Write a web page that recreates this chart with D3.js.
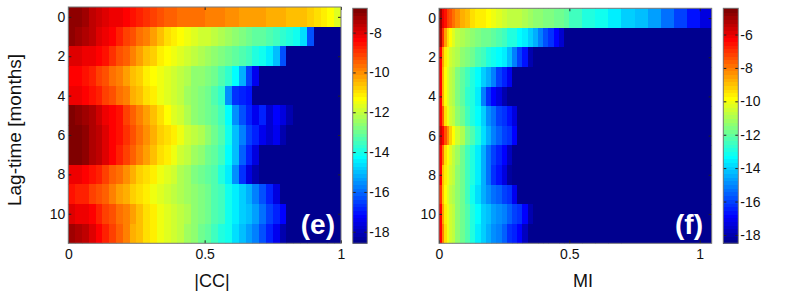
<!DOCTYPE html>
<html>
<head>
<meta charset="utf-8">
<script src="https://cdn.jsdelivr.net/npm/d3@7"></script>
<style>
body { margin: 0; background: #fff; }
text { font-family: "Liberation Sans", Arial, Helvetica, sans-serif; }
</style>
</head>
<body>
<div id="chart"></div>
<script>
// data (log values, one array per lag row)

var lagTicks = [0, 2, 4, 6, 8, 10];
var xTicks = [0, 0.5, 1];
var ccColorTicks = [-8, -10, -12, -14, -16, -18];
var miColorTicks = [-6, -8, -10, -12, -14, -16, -18];
var ccRange = [-18.58, -6.78];
var miRange = [-18.5, -4.43];

// |CC| bins: 0 .. 1 in steps of 0.025
var ccEdges = d3.range(41).map(function(i) { return i * 0.025; });

// MI bins: finer near zero
var miEdges = [0, 0.01, 0.02, 0.03, 0.04, 0.05, 0.06, 0.08, 0.10, 0.12, 0.14, 0.16, 0.18, 0.20,
    0.22, 0.24, 0.26, 0.28, 0.30, 0.32, 0.34, 0.36, 0.38, 0.40, 0.42, 0.44, 0.46, 0.48, 0.50,
    0.55, 0.60, 0.65, 0.70, 0.75, 0.80, 0.85, 0.90, 0.95, 1.00, 1.046];

var ccRows = [
    [-7.0,-7.1,-7.3,-7.6,-7.8,-8.0,-8.1,-8.2,-8.3,-8.5,-8.7,-8.9,-9.0,-9.2,-9.4,-9.5,-9.6,-9.6,-9.7,-9.7,-9.8,-9.9,-9.9,-10.0,-10.0,-10.1,-10.1,-10.2,-10.2,-10.3,-10.4,-10.4,-10.5,-10.6,-10.6,-10.7,-10.9,-11.1,-11.3,-11.6],
    [-7.1,-7.2,-7.4,-7.7,-8.0,-8.2,-8.4,-8.7,-9.0,-9.3,-9.6,-9.9,-10.2,-10.5,-10.9,-11.1,-11.3,-11.5,-11.7,-11.8,-11.9,-12.1,-12.3,-12.4,-12.6,-12.7,-12.9,-13.1,-13.2,-13.4,-13.5,-13.7,-13.9,-14.1,-14.6,-16.3,-18.6,-18.6,-18.6,-18.6],
    [-7.9,-8.0,-8.1,-8.2,-8.4,-8.6,-8.9,-9.2,-9.5,-9.8,-10.2,-10.5,-10.8,-11.1,-11.3,-11.5,-11.7,-11.9,-12.0,-12.2,-12.4,-12.5,-12.7,-12.9,-13.1,-13.3,-13.5,-13.8,-14.1,-14.4,-15.0,-16.3,-18.6,-18.6,-18.6,-18.6,-18.6,-18.6,-18.6,-18.6],
    [-8.3,-8.4,-8.5,-8.7,-9.0,-9.3,-9.6,-9.9,-10.2,-10.5,-10.8,-11.1,-11.3,-11.5,-11.7,-11.9,-12.1,-12.3,-12.5,-12.6,-12.8,-13.0,-13.3,-13.7,-14.3,-15.2,-16.5,-17.3,-18.6,-18.6,-18.6,-18.6,-18.6,-18.6,-18.6,-18.6,-18.6,-18.6,-18.6,-18.6],
    [-8.2,-8.2,-8.3,-8.5,-8.7,-9.0,-9.3,-9.6,-9.9,-10.3,-10.6,-10.9,-11.2,-11.4,-11.7,-11.9,-12.1,-12.4,-12.6,-12.8,-13.0,-13.3,-13.7,-15.5,-16.6,-16.9,-17.0,-18.4,-18.6,-18.6,-18.6,-18.6,-18.6,-18.6,-18.6,-18.6,-18.6,-18.6,-18.6,-18.6],
    [-6.9,-7.0,-7.2,-7.5,-7.8,-8.1,-8.3,-8.6,-9.0,-9.4,-9.8,-10.2,-10.6,-11.0,-11.3,-11.6,-11.9,-12.2,-12.5,-12.7,-12.9,-13.2,-13.6,-14.3,-15.5,-16.3,-16.8,-17.4,-16.9,-17.8,-17.2,-17.5,-18.2,-18.6,-18.6,-18.6,-18.6,-18.6,-18.6,-18.6],
    [-6.8,-6.9,-7.1,-7.4,-7.7,-8.0,-8.3,-8.6,-8.9,-9.2,-9.6,-10.0,-10.4,-10.7,-11.0,-11.2,-11.5,-11.8,-12.0,-12.3,-12.6,-12.9,-13.3,-14.0,-15.0,-15.8,-16.4,-16.9,-17.3,-17.8,-17.4,-18.1,-18.6,-18.6,-18.6,-18.6,-18.6,-18.6,-18.6,-18.6],
    [-6.8,-6.9,-7.1,-7.4,-7.7,-8.0,-8.3,-8.7,-9.0,-9.4,-9.8,-10.2,-10.6,-10.9,-11.2,-11.5,-11.8,-12.1,-12.4,-12.6,-12.9,-13.2,-13.6,-14.2,-15.0,-16.0,-16.8,-17.6,-18.6,-18.6,-18.6,-18.6,-18.6,-18.6,-18.6,-18.6,-18.6,-18.6,-18.6,-18.6],
    [-8.1,-8.2,-8.3,-8.5,-8.8,-9.1,-9.4,-9.7,-10.0,-10.4,-10.7,-11.0,-11.2,-11.5,-11.7,-11.9,-12.2,-12.4,-12.7,-12.9,-13.1,-13.4,-13.8,-14.5,-15.6,-16.6,-17.6,-18.1,-18.6,-18.6,-18.6,-18.6,-18.6,-18.6,-18.6,-18.6,-18.6,-18.6,-18.6,-18.6],
    [-8.6,-8.7,-8.8,-9.0,-9.2,-9.5,-9.8,-10.1,-10.4,-10.7,-11.0,-11.2,-11.4,-11.6,-11.8,-12.0,-12.2,-12.4,-12.6,-12.8,-13.0,-13.3,-13.6,-14.0,-14.4,-14.8,-15.2,-15.7,-16.3,-16.8,-17.5,-18.6,-18.6,-18.6,-18.6,-18.6,-18.6,-18.6,-18.6,-18.6],
    [-8.0,-8.1,-8.2,-8.4,-8.7,-9.0,-9.3,-9.6,-9.9,-10.2,-10.5,-10.9,-11.2,-11.4,-11.7,-11.9,-12.1,-12.3,-12.6,-12.8,-13.0,-13.3,-13.6,-14.0,-14.5,-14.8,-15.0,-15.4,-15.9,-16.4,-16.8,-17.2,-18.6,-18.6,-18.6,-18.6,-18.6,-18.6,-18.6,-18.6],
    [-7.3,-7.5,-7.7,-8.0,-8.3,-8.7,-9.1,-9.5,-9.9,-10.3,-10.6,-10.9,-11.2,-11.4,-11.7,-11.9,-12.1,-12.4,-12.6,-12.9,-13.2,-13.5,-13.8,-14.1,-14.6,-15.0,-15.3,-15.8,-16.3,-16.8,-17.3,-18.2,-18.6,-18.6,-18.6,-18.6,-18.6,-18.6,-18.6,-18.6]
];

var miRows = [
    [-5.0,-6.0,-6.6,-7.1,-7.5,-7.9, -8.3,-8.7,-9.0,-9.3,-9.5,-9.7,-9.8,-10.0,-10.2,-10.4,-10.6,-10.7,-10.8,-11.0,-11.2,-11.3,-11.4,-11.5,-11.6,-11.7,-11.9,-12.1, -12.4,-12.8,-13.2,-13.5,-13.9,-14.3,-14.7,-15.3,-15.9,-16.6, -17.2],
    [-5.3,-7.0,-8.6,-9.4,-9.9,-10.2, -10.6,-10.9,-11.1,-11.3,-11.5,-11.7,-11.9,-12.1,-12.3,-12.5,-12.8,-13.0,-13.3,-13.5,-13.9,-14.4,-15.0,-15.7,-16.3,-16.8,-17.6,-18.5, -18.5,-18.5,-18.5,-18.5,-18.5,-18.5,-18.5,-18.5,-18.5,-18.5, -18.5],
    [-6.3,-8.5,-9.6,-10.1,-10.4,-10.7, -11.0,-11.3,-11.6,-11.9,-12.2,-12.5,-12.8,-13.1,-13.3,-13.6,-14.3,-15.2,-16.0,-16.7,-18.0,-18.5,-18.5,-18.5,-18.5,-18.5,-18.5,-18.5, -18.5,-18.5,-18.5,-18.5,-18.5,-18.5,-18.5,-18.5,-18.5,-18.5, -18.5],
    [-6.4,-8.8,-9.8,-10.3,-10.7,-11.0, -11.5,-12.0,-12.5,-12.9,-13.3,-13.9,-14.5,-15.2,-15.9,-16.5,-17.0,-18.3,-18.5,-18.5,-18.5,-18.5,-18.5,-18.5,-18.5,-18.5,-18.5,-18.5, -18.5,-18.5,-18.5,-18.5,-18.5,-18.5,-18.5,-18.5,-18.5,-18.5, -18.5],
    [-6.3,-8.7,-9.8,-10.3,-10.7,-11.0, -11.6,-12.1,-12.6,-13.0,-13.6,-15.2,-16.2,-16.8,-17.4,-17.9,-18.5,-18.5,-18.5,-18.5,-18.5,-18.5,-18.5,-18.5,-18.5,-18.5,-18.5,-18.5, -18.5,-18.5,-18.5,-18.5,-18.5,-18.5,-18.5,-18.5,-18.5,-18.5, -18.5],
    [-6.2,-7.6,-9.3,-10.0,-10.4,-10.8, -11.3,-11.9,-12.4,-12.9,-13.4,-14.1,-14.9,-15.4,-15.9,-16.2,-16.6,-17.2,-18.5,-18.5,-18.5,-18.5,-18.5,-18.5,-18.5,-18.5,-18.5,-18.5, -18.5,-18.5,-18.5,-18.5,-18.5,-18.5,-18.5,-18.5,-18.5,-18.5, -18.5],
    [-5.6,-6.2,-7.3,-8.3,-9.2,-9.8, -10.4,-11.0,-11.7,-12.3,-13.0,-13.8,-14.4,-15.0,-15.5,-15.9,-16.3,-16.9,-18.5,-18.5,-18.5,-18.5,-18.5,-18.5,-18.5,-18.5,-18.5,-18.5, -18.5,-18.5,-18.5,-18.5,-18.5,-18.5,-18.5,-18.5,-18.5,-18.5, -18.5],
    [-6.3,-7.9,-9.4,-9.9,-10.3,-10.7, -11.2,-11.8,-12.4,-13.0,-13.6,-14.4,-15.3,-15.9,-16.4,-16.9,-17.8,-18.5,-18.5,-18.5,-18.5,-18.5,-18.5,-18.5,-18.5,-18.5,-18.5,-18.5, -18.5,-18.5,-18.5,-18.5,-18.5,-18.5,-18.5,-18.5,-18.5,-18.5, -18.5],
    [-6.4,-8.9,-9.7,-10.1,-10.5,-10.8, -11.3,-11.8,-12.4,-13.0,-13.6,-14.5,-15.4,-16.2,-16.7,-17.2,-18.2,-18.5,-18.5,-18.5,-18.5,-18.5,-18.5,-18.5,-18.5,-18.5,-18.5,-18.5, -18.5,-18.5,-18.5,-18.5,-18.5,-18.5,-18.5,-18.5,-18.5,-18.5, -18.5],
    [-7.0,-9.0,-9.8,-10.2,-10.6,-10.9, -11.4,-11.9,-12.5,-13.1,-13.8,-14.4,-14.9,-15.3,-15.6,-15.9,-16.3,-17.0,-18.5,-18.5,-18.5,-18.5,-18.5,-18.5,-18.5,-18.5,-18.5,-18.5, -18.5,-18.5,-18.5,-18.5,-18.5,-18.5,-18.5,-18.5,-18.5,-18.5, -18.5],
    [-6.3,-8.6,-9.7,-10.1,-10.5,-10.8, -11.3,-11.8,-12.3,-12.9,-13.4,-13.9,-14.3,-14.6,-14.9,-15.2,-15.6,-15.9,-16.3,-16.8,-17.9,-18.5,-18.5,-18.5,-18.5,-18.5,-18.5,-18.5, -18.5,-18.5,-18.5,-18.5,-18.5,-18.5,-18.5,-18.5,-18.5,-18.5, -18.5],
    [-6.2,-8.0,-9.4,-10.0,-10.4,-10.8, -11.3,-11.8,-12.3,-12.9,-13.5,-14.0,-14.4,-14.8,-15.2,-15.6,-16.1,-16.5,-16.9,-17.8,-18.5,-18.5,-18.5,-18.5,-18.5,-18.5,-18.5,-18.5, -18.5,-18.5,-18.5,-18.5,-18.5,-18.5,-18.5,-18.5,-18.5,-18.5, -18.5]
];

var svg = d3.select("#chart").append("svg")
    .attr("width", 789)
    .attr("height", 297);

// matlab jet(64)
function jetPart(i)
{
    if(i < 1 || i > 47) return 0;
    if(i <= 16) return i / 16;
    if(i <= 31) return 1;
    return (48 - i) / 16;
}

function jetColor(v, range)
{
    var k = Math.floor((v - range[0]) / (range[1] - range[0]) * 64);
    k = Math.max(0, Math.min(63, k)) + 1;
    return d3.rgb(255 * jetPart(k - 24), 255 * jetPart(k - 8), 255 * jetPart(k + 8)).toString();
}

function styleAxis(g)
{
    g.select(".domain").remove();
    g.selectAll(".tick line").attr("stroke", "#222");
    g.selectAll(".tick text")
        .attr("fill", "#111")
        .style("font-size", "14px")
        .style("font-family", "'Liberation Sans', Arial, sans-serif");
}

function drawPanel(p)
{
    var x = d3.scaleLinear().domain(p.xDomain).range([p.left, p.right]);
    var y = d3.scaleLinear().domain([-0.5, 11.5]).range([p.top, p.bottom]);

    var g = svg.append("g");

    g.append("clipPath").attr("id", "clip-" + p.id)
        .append("rect")
        .attr("x", p.left).attr("y", p.top)
        .attr("width", p.right - p.left).attr("height", p.bottom - p.top);

    var cells = [];
    p.rows.forEach(function(row, r) {
        row.forEach(function(v, i) {
            cells.push({ r: r, x0: p.edges[i], x1: p.edges[i + 1], v: v });
        });
    });

    g.append("g")
        .attr("clip-path", "url(#clip-" + p.id + ")")
        .selectAll("rect")
        .data(cells)
        .enter().append("rect")
        .attr("x", function(d) { return x(d.x0); })
        .attr("width", function(d) { return x(d.x1) - x(d.x0) + 0.6; })
        .attr("y", function(d) { return y(d.r - 0.5); })
        .attr("height", function(d) { return y(d.r + 0.5) - y(d.r - 0.5) + 0.6; })
        .attr("fill", function(d) { return jetColor(d.v, p.range); })
        .attr("shape-rendering", "crispEdges");

    // axes, ticks pointing inward
    g.append("g")
        .attr("transform", "translate(0," + p.bottom + ")")
        .call(d3.axisBottom(x).tickValues(xTicks).tickSizeInner(-3).tickSizeOuter(0).tickPadding(6)
            .tickFormat(function(d) { return String(d); }))
        .call(styleAxis);
    g.append("g")
        .attr("transform", "translate(0," + p.top + ")")
        .call(d3.axisTop(x).tickValues(xTicks).tickSizeInner(-3).tickSizeOuter(0).tickFormat(""))
        .call(styleAxis);
    g.append("g")
        .attr("transform", "translate(" + p.left + ",0)")
        .call(d3.axisLeft(y).tickValues(lagTicks).tickSizeInner(-3).tickSizeOuter(0).tickPadding(3)
            .tickFormat(function(d) { return String(d); }))
        .call(styleAxis);
    g.append("g")
        .attr("transform", "translate(" + p.right + ",0)")
        .call(d3.axisRight(y).tickValues(lagTicks).tickSizeInner(-3).tickSizeOuter(0).tickFormat(""))
        .call(styleAxis);

    g.append("rect")
        .attr("x", p.left).attr("y", p.top)
        .attr("width", p.right - p.left).attr("height", p.bottom - p.top)
        .attr("fill", "none")
        .attr("stroke", "#777")
        .attr("stroke-width", 1);

    // panel letter
    g.append("text")
        .attr("x", p.letterX)
        .attr("y", 234)
        .attr("text-anchor", "end")
        .attr("fill", "#fff")
        .style("font-size", "28px")
        .style("font-weight", "bold")
        .text(p.letter);

    // x label
    g.append("text")
        .attr("x", p.labelX)
        .attr("y", 287)
        .attr("text-anchor", "middle")
        .attr("fill", "#111")
        .style("font-size", "18px")
        .text(p.xLabel);

    // colorbar
    var cy = d3.scaleLinear().domain(p.range).range([p.bottom, p.cbTop]);
    var step = (p.range[1] - p.range[0]) / 64;
    var levels = d3.range(64);

    var cb = svg.append("g");
    cb.selectAll("rect")
        .data(levels)
        .enter().append("rect")
        .attr("x", p.cbLeft)
        .attr("width", p.cbRight - p.cbLeft)
        .attr("y", function(k) { return cy(p.range[0] + (k + 1) * step); })
        .attr("height", function(k) { return cy(p.range[0] + k * step) - cy(p.range[0] + (k + 1) * step) + 0.6; })
        .attr("fill", function(k) { return jetColor(p.range[0] + (k + 0.5) * step, p.range); })
        .attr("shape-rendering", "crispEdges");

    cb.append("g")
        .attr("transform", "translate(" + p.cbRight + ",0)")
        .call(d3.axisRight(cy).tickValues(p.colorTicks).tickSizeInner(-3).tickSizeOuter(0).tickPadding(2)
            .tickFormat(function(d) { return String(d); }))
        .call(styleAxis);
    cb.append("g")
        .attr("transform", "translate(" + p.cbLeft + ",0)")
        .call(d3.axisLeft(cy).tickValues(p.colorTicks).tickSizeInner(-3).tickSizeOuter(0).tickFormat(""))
        .call(styleAxis);

    cb.append("rect")
        .attr("x", p.cbLeft).attr("y", p.cbTop)
        .attr("width", p.cbRight - p.cbLeft).attr("height", p.bottom - p.cbTop)
        .attr("fill", "none")
        .attr("stroke", "#777");
}

drawPanel({
    id: "cc", rows: ccRows, edges: ccEdges, range: ccRange, colorTicks: ccColorTicks,
    xDomain: [0, 1], left: 68.3, right: 341, top: 7, bottom: 243.3,
    cbLeft: 352.7, cbRight: 367.3, cbTop: 8.3,
    letter: "(e)", letterX: 335, xLabel: "|CC|", labelX: 212
});

drawPanel({
    id: "mi", rows: miRows, edges: miEdges, range: miRange, colorTicks: miColorTicks,
    xDomain: [0, 1.046], left: 439, right: 711.7, top: 8.3, bottom: 243.3,
    cbLeft: 723.3, cbRight: 738.3, cbTop: 8.3,
    letter: "(f)", letterX: 703, xLabel: "MI", labelX: 583
});

svg.append("text")
    .attr("transform", "translate(21,130) rotate(-90)")
    .attr("text-anchor", "middle")
    .attr("fill", "#111")
    .style("font-size", "19px")
    .text("Lag-time [months]");
</script>
</body>
</html>
